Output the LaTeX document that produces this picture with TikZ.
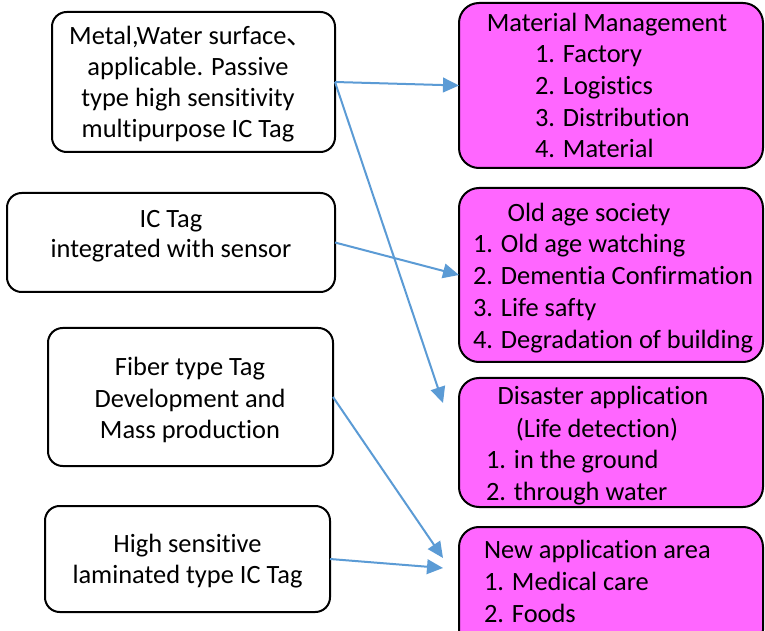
\documentclass[tikz,border=0pt]{standalone}
\usepackage{fontspec}
\setmainfont{Carlito}[Ligatures={NoCommon}]
\newfontfamily\cjkfont{Noto Sans CJK JP}
\usetikzlibrary{arrows.meta}
\definecolor{arrowblue}{HTML}{5B9BD5}
\definecolor{boxpink}{HTML}{FF66FF}
\begin{document}
\begin{tikzpicture}[x=0.75pt,y=-0.75pt,
  lbox/.style={draw=black, line width=1.5pt, rounded corners=11pt, fill=white, inner sep=0pt, outer sep=0pt},
  rbox/.style={draw=black, line width=1.5pt, rounded corners=15pt, fill=boxpink, inner sep=0pt, outer sep=0pt, minimum width=228pt},
  txt/.style={font=\fontsize{19.8}{24}\selectfont, inner sep=0pt, outer sep=0pt, anchor=base},
  txtl/.style={txt, anchor=base west},
  conn/.style={draw=arrowblue, line width=1.5pt, -{Triangle[length=12pt,width=11pt]}}
]
\useasboundingbox (0,0) rectangle (765,631);
\fill[white] (0,0) rectangle (765,631);

% left boxes
\node[lbox, minimum width=212.25pt, minimum height=105pt] (L1) at (193.5,82) {};
\node[lbox, minimum width=246pt, minimum height=74.25pt] (L2) at (171,242.5) {};
\node[lbox, minimum width=213.75pt, minimum height=103.5pt] (L3) at (190.5,397) {};
\node[lbox, minimum width=213.75pt, minimum height=79.5pt] (L4) at (187.5,559) {};

% right boxes
\node[rbox, minimum height=123.75pt] (R1) at (611,85.5) {};
\node[rbox, minimum height=130.5pt] (R2) at (611,275) {};
\node[rbox, minimum height=96.75pt] (R3) at (611,442.5) {};
\node[rbox, minimum height=92.25pt] (R4) at (611,588.5) {};

% left texts
\node[txt] (l1a) at (191,45) {Metal,Water surface{\cjkfont 、}};
\node[txt] (l1b) at (188,76) {applicable. Passive};
\node[txt] (l1c) at (188,107) {type high sensitivity};
\node[txt] (l1d) at (188,138) {multipurpose IC Tag};
\node[txt] (l2a) at (171,228) {IC Tag};
\node[txt] (l2b) at (171,258) {integrated with sensor};
\node[txt] (l3a) at (190,375) {Fiber type Tag};
\node[txt] (l3b) at (190,407) {Development and};
\node[txt] (l3c) at (190,438) {Mass production};
\node[txt] (l4a) at (187.5,552) {High sensitive};
\node[txt] (l4b) at (187.5,583) {laminated type IC Tag};

% right texts
\node[txt] (r1t) at (607,32) {Material Management};
\node[txtl] (r1a) at (535,63) {1. Factory};
\node[txtl] (r1b) at (535,95) {2. Logistics};
\node[txtl] (r1c) at (535,127) {3. Distribution};
\node[txtl] (r1d) at (535,158) {4. Material};
\node[txt] (r2t) at (589,222) {Old age society};
\node[txtl] (r2a) at (473,253) {1. Old age watching};
\node[txtl] (r2b) at (473,285) {2. Dementia Confirmation};
\node[txtl] (r2c) at (473,317) {3. Life safty};
\node[txtl] (r2d) at (473,349) {4. Degradation of building};
\node[txt] (r3t) at (603,404) {Disaster application};
\node[txt] (r3s) at (597,437) {(Life detection)};
\node[txtl] (r3a) at (486,468) {1. in the ground};
\node[txtl] (r3b) at (486,500) {2. through water};
\node[txtl] (r4t) at (484,558) {New application area};
\node[txtl] (r4a) at (484,590) {1. Medical care};
\node[txtl] (r4b) at (484,622) {2. Foods};

% connectors
\coordinate (e2) at (443,403);
\coordinate (e4) at (443,558);
\coordinate (e5) at (443,568);
\draw[conn] (L1.east) -- (R1.west);
\draw[conn] (L1.east) -- (e2);
\draw[conn] (L2.east) -- (R2.west);
\draw[conn] (L3.east) -- (e4);
\draw[conn] (L4.east) -- (e5);
\end{tikzpicture}
\end{document}
